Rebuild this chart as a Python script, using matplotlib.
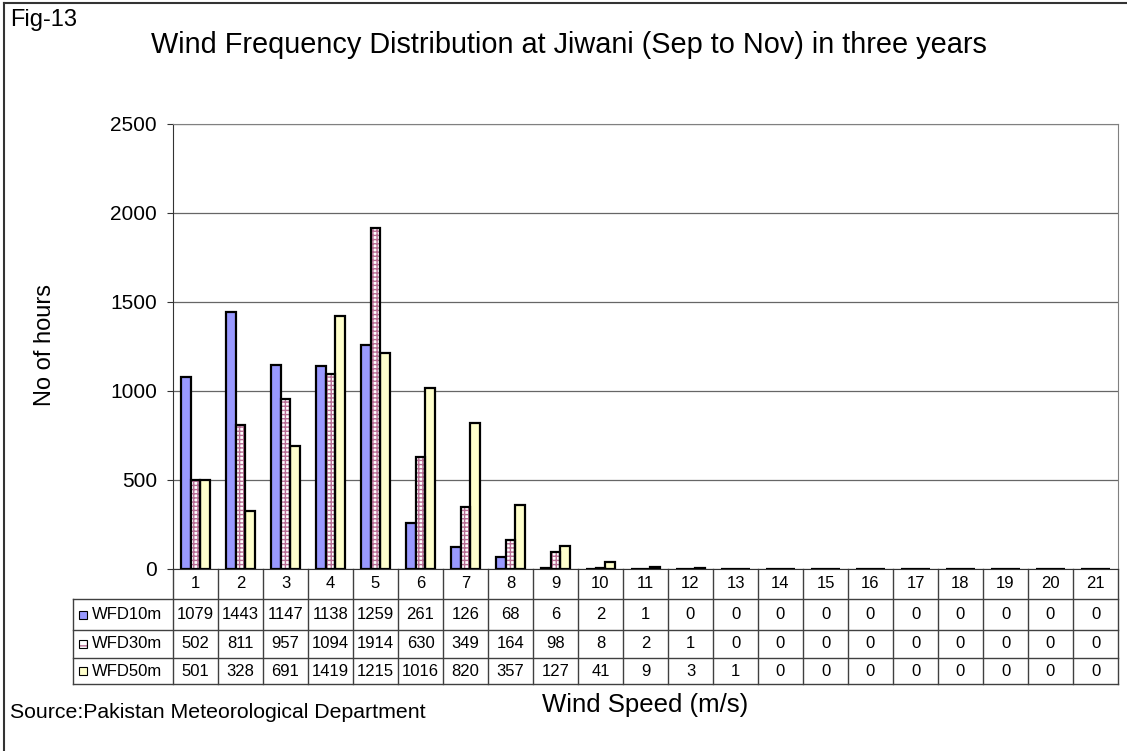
import numpy as np
import matplotlib.pyplot as plt
from matplotlib.patches import Rectangle

plt.rcParams['font.family'] = ['Liberation Sans', 'DejaVu Sans']

speeds = list(range(1, 22))
wfd10 = [1079, 1443, 1147, 1138, 1259, 261, 126, 68, 6, 2, 1, 0, 0, 0, 0, 0, 0, 0, 0, 0, 0]
wfd30 = [502, 811, 957, 1094, 1914, 630, 349, 164, 98, 8, 2, 1, 0, 0, 0, 0, 0, 0, 0, 0, 0]
wfd50 = [501, 328, 691, 1419, 1215, 1016, 820, 357, 127, 41, 9, 3, 1, 0, 0, 0, 0, 0, 0, 0, 0]
names = ['WFD10m', 'WFD30m', 'WFD50m']
series = [wfd10, wfd30, wfd50]
yticks = [0, 500, 1000, 1500, 2000, 2500]

W, H = 1127, 751
fig = plt.figure(figsize=(W / 100, H / 100), dpi=100)
L, R, T, B = 173, 1118, 124, 569
ax = fig.add_axes([L / W, 1 - B / H, (R - L) / W, (B - T) / H])
colw = (R - L) / 21.0

x = np.array(speeds)
bw = 0.222
faces = ['#9999ff', '#ecd0de', '#ffffcc']
for i, (vals, fc) in enumerate(zip(series, faces)):
    pos = x + (i - 1) * bw
    if i == 1:
        # pink crosshatch pattern, then black outline on top
        ax.bar(pos, vals, bw, color='white', edgecolor='#b86e94', hatch='++++', linewidth=0, zorder=3)
        ax.bar(pos, vals, bw, facecolor='none', edgecolor='black', linewidth=1.6, zorder=4)
    else:
        ax.bar(pos, vals, bw, color=fc, edgecolor='black', linewidth=1.6, zorder=3)

ax.set_xlim(0.5, 21.5)
ax.set_ylim(0, 2500)
ax.set_yticks(yticks)
ax.set_yticklabels([str(v) for v in yticks], fontsize=15)
ax.yaxis.grid(True, color='#666666', linewidth=0.9)
ax.set_axisbelow(True)
ax.set_xticks([])
ax.tick_params(axis='y', length=4.5, color='#333333', pad=7)
for s in ax.spines.values():
    s.set_color('#808080')
ax.spines['bottom'].set_color('#333333')
ax.spines['left'].set_color('#333333')
fig.text(45 / W, 1 - 345 / H, 'No of hours', fontsize=17, rotation=90, ha='center', va='center')

# data table below plot
tr = ax.get_xaxis_transform()
ph = B - T
rows_px = [0, 30, 61, 89, 115]
ys = [-r / ph for r in rows_px]
lc = '#404040'
xl = 0.5 - 100 / colw
xr = 21.5
for y in ys[1:]:
    ax.plot([xl, xr], [y, y], color=lc, lw=1, transform=tr, clip_on=False)
for b in np.arange(0.5, 22, 1):
    ax.plot([b, b], [0, ys[-1]], color=lc, lw=1, transform=tr, clip_on=False)
ax.plot([xl, xl], [ys[1], ys[-1]], color=lc, lw=1, transform=tr, clip_on=False)
for s in speeds:
    ax.text(s, (ys[0] + ys[1]) / 2, str(s), ha='center', va='center', fontsize=12, transform=tr)
for r, (nm, vals, fc) in enumerate(zip(names, series, faces)):
    yc = (ys[r + 1] + ys[r + 2]) / 2
    for s, v in zip(speeds, vals):
        ax.text(s, yc, str(v), ha='center', va='center', fontsize=12, transform=tr)
    mh = 8 / ph
    mx = xl + 6 / colw
    if r == 1:
        ax.add_patch(Rectangle((mx, yc - mh / 2), 8 / colw, mh, facecolor='white',
                               edgecolor='#b86e94', lw=0, hatch='++',
                               transform=tr, clip_on=False))
        ax.add_patch(Rectangle((mx, yc - mh / 2), 8 / colw, mh, facecolor='none',
                               edgecolor='black', lw=0.8, transform=tr, clip_on=False))
    else:
        ax.add_patch(Rectangle((mx, yc - mh / 2), 8 / colw, mh, facecolor=fc,
                               edgecolor='black', lw=0.8, transform=tr, clip_on=False))
    ax.text(xl + 19 / colw, yc, nm, ha='left', va='center', fontsize=12, transform=tr)

fig.text(10 / W, 1 - 20 / H, 'Fig-13', fontsize=17, va='center', ha='left')
fig.text(569 / W, 1 - 45 / H, 'Wind Frequency Distribution at Jiwani (Sep to Nov) in three years',
         fontsize=20.8, ha='center', va='center')
fig.text(645 / W, 1 - 705 / H, 'Wind Speed (m/s)', fontsize=18.5, ha='center', va='center')
fig.text(10 / W, 1 - 712 / H, 'Source:Pakistan Meteorological Department', fontsize=15.3,
         ha='left', va='center')

# figure frame (left and top edges)
fig.add_artist(plt.Line2D([4 / W, 4 / W], [0, 1 - 3 / H], color='#333333', lw=1.5))
fig.add_artist(plt.Line2D([4 / W, 1], [1 - 3 / H, 1 - 3 / H], color='#333333', lw=1.5))

fig.savefig('out.png', dpi=100)
